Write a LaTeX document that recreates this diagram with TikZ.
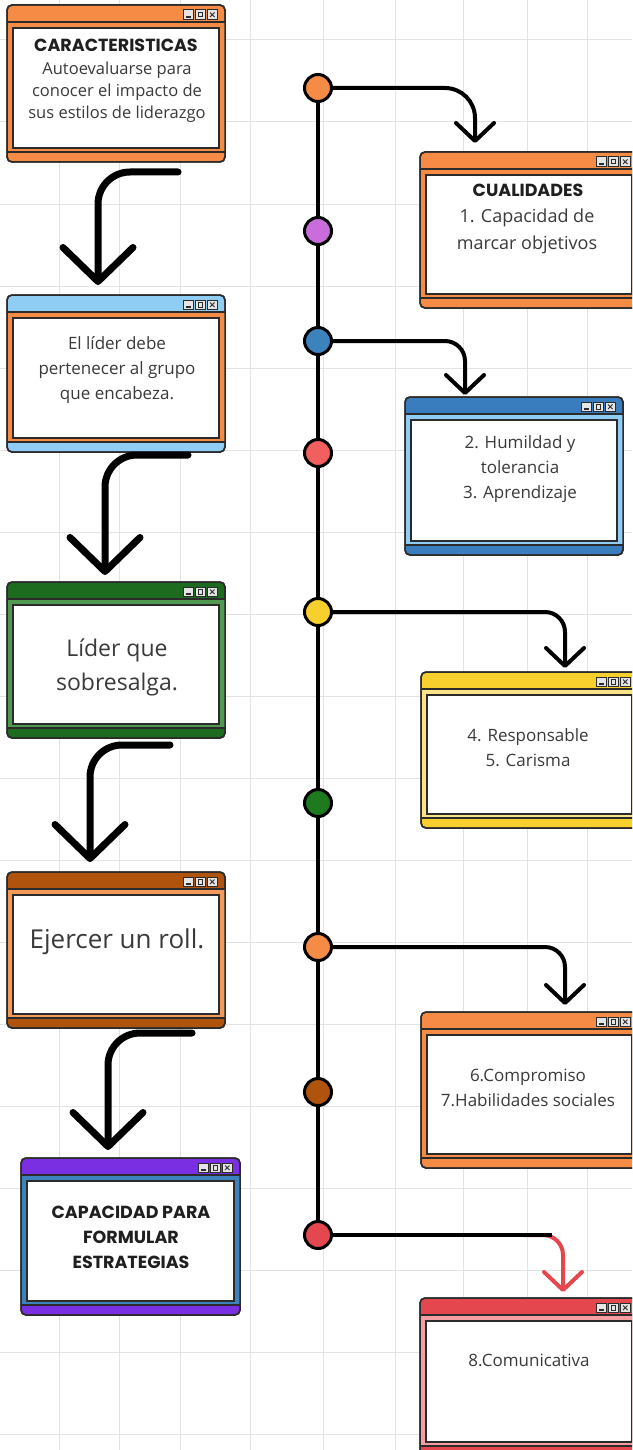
\documentclass[tikz,border=0pt]{standalone}
\usepackage{fontspec}
\setmainfont{Open Sans}
\newfontfamily\titulofont{Poppins}
\usetikzlibrary{arrows.meta}

\definecolor{naranja}{HTML}{F68B45}
\definecolor{naranjaclaro}{HTML}{F39A5A}
\definecolor{celeste}{HTML}{8FCDF4}
\definecolor{azul}{HTML}{3C83BD}
\definecolor{azulosc}{HTML}{3A7DBE}
\definecolor{verdeosc}{HTML}{1D6B1F}
\definecolor{verdemed}{HTML}{4F9A50}
\definecolor{cafe}{HTML}{B0530C}
\definecolor{morado}{HTML}{7B2FE2}
\definecolor{violeta}{HTML}{C86DDB}
\definecolor{amarillo}{HTML}{F8D02E}
\definecolor{amarilloclaro}{HTML}{FBE38A}
\definecolor{rojo}{HTML}{E5474F}
\definecolor{rojoclaro}{HTML}{F25F5F}
\definecolor{rosa}{HTML}{F59EA2}
\definecolor{verde}{HTML}{1E7A1E}
\definecolor{bordec}{HTML}{2B2B2B}
\definecolor{gristexto}{HTML}{3A3A3A}

% ventana: name, x, y, width, height, bar colour, frame colour
\newcommand{\ventana}[7]{%
  \node[ventana, fill=#6, minimum width=#4pt, minimum height=#5pt] (#1) at (#2,#3) {};
  \fill[#7] ([yshift=-17pt]#1.north west) rectangle ([yshift=10pt]#1.south east);
  \draw[borde] ([yshift=-17pt]#1.north west) -- ([yshift=-17pt]#1.north east);
  \draw[borde] ([yshift=10pt]#1.south west) -- ([yshift=10pt]#1.south east);
  \draw[borde, fill=white] ([xshift=6pt,yshift=-23pt]#1.north west) rectangle ([xshift=-6pt,yshift=14pt]#1.south east);
  \draw[borde, rounded corners=5pt] (#1.north west) rectangle (#1.south east);
  \draw[boton] ([xshift=-41.5pt,yshift=-5pt]#1.north east) rectangle ++(9.5pt,-9.5pt);
  \draw[boton] ([xshift=-29.5pt,yshift=-5pt]#1.north east) rectangle ++(9.5pt,-9.5pt);
  \draw[boton] ([xshift=-17.5pt,yshift=-5pt]#1.north east) rectangle ++(9.5pt,-9.5pt);
  \draw[line width=1.3pt, bordec] ([xshift=-39pt,yshift=-12pt]#1.north east) -- ++(4.5pt,0);
  \draw[line width=1pt, bordec] ([xshift=-27pt,yshift=-7.5pt]#1.north east) rectangle ++(4.5pt,-4.5pt);
  \draw[line width=1pt, bordec] ([xshift=-15pt,yshift=-7.5pt]#1.north east) -- ++(4.5pt,-4.5pt) ++(-4.5pt,0) -- ++(4.5pt,4.5pt);
}

\begin{document}
\begin{tikzpicture}[x=1pt, y=-1pt,
  ventana/.style={draw=bordec, line width=1.5pt, rounded corners=5pt, inner sep=0pt, outer sep=0pt, anchor=north west},
  borde/.style={draw=bordec, line width=1.5pt},
  boton/.style={draw=bordec, fill=gray!20, line width=1pt},
  rejilla/.style={draw=gray!22, line width=1pt},
  punto/.style={circle, draw=black, line width=3pt, minimum size=27pt, inner sep=0pt},
  eje/.style={line width=4pt},
  conector/.style={line width=4pt, rounded corners=20pt, -{Straight Barb[length=18pt,width=38pt,round]}},
  flecha/.style={line width=7pt, line cap=round, rounded corners=32pt, -{Straight Barb[length=34pt,width=70pt,round]}},
  texto/.style={text=gristexto, align=center, font=\fontsize{17}{25}\selectfont},
  titulo/.style={text=black!88, align=center, font=\titulofont\bfseries\fontsize{17.5}{25}\selectfont}]
  \useasboundingbox (0,0) rectangle (632,1450);
  \clip (0,0) rectangle (632,1450);
  \fill[white] (0,0) rectangle (632,1450);
  % background grid
  \foreach \gx in {59,119,180,250,323,395,463,527,587} \draw[rejilla] (\gx,0) -- (\gx,1450);
  \foreach \gy in {40,122,...,1450} \draw[rejilla] (0,\gy) -- (632,\gy);

  %% left column
  \ventana{w1}{7}{5}{218}{157}{naranja}{naranja}
  \ventana{w2}{7}{295}{218}{157}{celeste}{naranja}
  \ventana{w3}{7}{582}{218}{156}{verdeosc}{verdemed}
  \ventana{w4}{7}{872}{218}{156}{cafe}{naranjaclaro}
  \ventana{w5}{21}{1158}{219}{157}{morado}{azul}
  \node[titulo, font=\titulofont\bfseries\fontsize{17.5}{25}\selectfont] (t1a) at (116,45) {CARACTERISTICAS};
  \node[texto, font=\fontsize{16.5}{22}\selectfont] (t1) at (117,92) {Autoevaluarse para\\conocer el impacto de\\sus estilos de liderazgo};
  \node[texto] (t2) at (117,370) {El líder debe\\pertenecer al grupo\\que encabeza.};
  \node[texto, font=\fontsize{23}{34}\selectfont] (t3) at (117,667) {Líder que\\sobresalga.};
  \node[texto, font=\fontsize{26}{34}\selectfont] (t4) at (117,942) {Ejercer un roll.};
  \node[titulo] (t5) at (131,1237) {CAPACIDAD PARA\\FORMULAR\\ESTRATEGIAS};
  % left arrows
  \coordinate (s1) at (178,172); \coordinate (s2) at (188,455);
  \coordinate (s3) at (170,745); \coordinate (s4) at (192,1033);
  \draw[flecha] (s1) -| ([xshift=91pt,yshift=10pt]w2.north west);
  \draw[flecha] (s2) -| ([xshift=98pt,yshift=7pt]w3.north west);
  \draw[flecha] (s3) -| ([xshift=83pt,yshift=10pt]w4.north west);
  \draw[flecha] (s4) -| ([xshift=87pt,yshift=8pt]w5.north west);

  %% right column
  \ventana{wa}{420}{152}{218}{156}{naranja}{naranja}
  \ventana{wb}{405}{397}{218}{158}{azulosc}{celeste}
  \ventana{wc}{421}{672}{217}{156}{amarillo}{amarilloclaro}
  \ventana{wd}{421}{1012}{217}{156}{naranja}{naranja}
  \ventana{we}{420}{1298}{218}{158}{rojo}{rosa}
  \node[titulo] (ta1) at (528,190) {CUALIDADES};
  \node[texto, font=\fontsize{18}{27}\selectfont] (ta) at (527,231) {1. Capacidad de\\marcar objetivos};
  \node[texto] (tb) at (520,469) {2. Humildad y\\tolerancia\\3. Aprendizaje};
  \node[texto] (tc) at (528,748) {4. Responsable\\5. Carisma};
  \node[texto] (td) at (528,1088) {6.Compromiso\\7.Habilidades sociales};
  \node[texto] (te) at (529,1360) {8.Comunicativa};

  %% timeline
  \node[punto, fill=naranja] (c1) at (318,88) {};
  \node[punto, fill=violeta] (c2) at (318,231) {};
  \node[punto, fill=azul] (c3) at (318,341) {};
  \node[punto, fill=rojoclaro] (c4) at (318,453) {};
  \node[punto, fill=amarillo] (c5) at (318,612) {};
  \node[punto, fill=verde] (c6) at (318,803) {};
  \node[punto, fill=naranja] (c7) at (318,947) {};
  \node[punto, fill=cafe] (c8) at (318,1092) {};
  \node[punto, fill=rojo] (c9) at (318,1235) {};
  \foreach \a/\b in {c1/c2,c2/c3,c3/c4,c4/c5,c5/c6,c6/c7,c7/c8,c8/c9} \draw[eje] (\a) -- (\b);
  % right arrows
  \draw[conector, rounded corners=30pt] (c1) -| ([xshift=55pt,yshift=9pt]wa.north west);
  \draw[conector] (c3) -| ([xshift=60pt,yshift=2pt]wb.north west);
  \draw[conector] (c5) -| ([xshift=144pt,yshift=4pt]wc.north west);
  \draw[conector] (c7) -| ([xshift=144pt,yshift=7pt]wd.north west);
  \coordinate (r9) at (523,1235); \coordinate (f9) at (552,1235);
  \draw[conector, draw=rojo] (r9) -| ([xshift=143pt,yshift=6pt]we.north west);
  \draw[eje] (c9) -- (f9);
\end{tikzpicture}
\end{document}
